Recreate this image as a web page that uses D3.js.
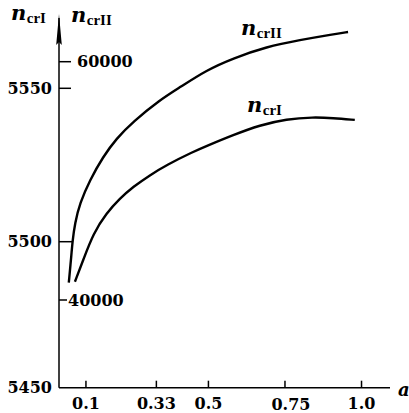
<!DOCTYPE html>
<html>
<head>
<meta charset="utf-8">
<script src="https://cdn.jsdelivr.net/npm/d3@7"></script>
<style>
  html, body { margin: 0; padding: 0; background: #fff; }
  svg { display: block; }
  text { fill: #000; }
</style>
</head>
<body>
<svg id="chart" width="409" height="413"></svg>
<script>
// ---- data ----
const xTicks = [0.1, 0.33, 0.5, 0.75, 1.0];
const xTickLabels = ["0.1", "0.33", "0.5", "0.75", "1.0"];
const leftTicks = [5450, 5500, 5550];
const leftTickLabels = ["5450", "5500", "5550"];
const rightTicks = [40000, 60000];
const rightTickLabels = ["40000", "60000"];

// n_crI (left axis)
const aI =   [0.064, 0.091, 0.124, 0.167, 0.211, 0.254, 0.309, 0.363, 0.450, 0.494, 0.581, 0.668, 0.755, 0.842, 0.907, 0.978];
const nCrI = [5486.3, 5493.7, 5502.7, 5509.3, 5514.1, 5517.9, 5521.7, 5525.0, 5529.3, 5531.2, 5534.8, 5538.0, 5540.0, 5540.6, 5540.3, 5539.7];

// n_crII (right axis)
const aII =   [0.044, 0.053, 0.056, 0.064, 0.080, 0.113, 0.156, 0.200, 0.254, 0.341, 0.407, 0.494, 0.581, 0.690, 0.799, 0.907, 0.956];
const nCrII = [41450, 43920, 44890, 46440, 48120, 50070, 52030, 53570, 54965, 56790, 57850, 59300, 60290, 61260, 61820, 62300, 62490];

// ---- scales ----
const svg = d3.select("#chart");
const x = d3.scaleLinear().domain([0.012, 1.093]).range([59, 390]);
const yL = d3.scaleLinear().domain([5450, 5500, 5550]).range([387.7, 241.7, 88.3]);
const yR = d3.scaleLinear().domain([40000, 60000]).range([300, 61.7]);

const axisColor = "#000";
const x0 = x.range()[0];
const yBase = yL(5450);
const tickFont = { family: "DejaVu Serif", size: 16, weight: "bold" };

function styleTick(sel) {
  return sel.attr("font-family", tickFont.family)
    .attr("font-size", tickFont.size)
    .attr("font-weight", tickFont.weight);
}

// ---- x axis ----
svg.append("line")
  .attr("x1", x0).attr("x2", x.range()[1])
  .attr("y1", yBase).attr("y2", yBase)
  .attr("stroke", axisColor).attr("stroke-width", 1.5);

const xg = svg.append("g");
xg.selectAll("line.t").data(xTicks).enter().append("line")
  .attr("x1", d => x(d)).attr("x2", d => x(d))
  .attr("y1", yBase).attr("y2", yBase - 7)
  .attr("stroke", axisColor).attr("stroke-width", 1.5);
styleTick(xg.selectAll("text").data(xTicks).enter().append("text")
  .attr("x", d => x(d) + (d === 0.75 ? 6 : 0))
  .attr("y", d => d === 0.75 ? 410 : 408.5)
  .attr("text-anchor", "middle"))
  .text((d, i) => xTickLabels[i]);

svg.append("text")
  .attr("x", 398).attr("y", 396)
  .attr("font-family", "DejaVu Serif")
  .attr("font-style", "italic")
  .attr("font-weight", "bold")
  .attr("font-size", 18)
  .text("a");

// ---- y axis line with arrow ----
svg.append("line")
  .attr("x1", x0).attr("x2", x0)
  .attr("y1", yBase).attr("y2", 18)
  .attr("stroke", axisColor).attr("stroke-width", 1.5);
svg.append("path")
  .attr("d", `M${x0},14 L${x0 + 2.8},45 L${x0},42 L${x0 - 2.8},45 Z`)
  .attr("fill", axisColor);

// left ticks
const lg = svg.append("g");
lg.selectAll("line").data(leftTicks.filter(d => d !== 5450)).enter().append("line")
  .attr("x1", x0).attr("x2", d => d === 5500 ? x0 + 14 : x0 + 12)
  .attr("y1", d => yL(d)).attr("y2", d => yL(d))
  .attr("stroke", axisColor).attr("stroke-width", 1.5);
styleTick(lg.selectAll("text").data(leftTicks).enter().append("text")
  .attr("x", 52)
  .attr("y", d => yL(d))
  .attr("dy", "0.36em")
  .attr("text-anchor", "end"))
  .text((d, i) => leftTickLabels[i]);

// right-scale ticks (drawn on same axis)
const rg = svg.append("g");
rg.selectAll("line").data(rightTicks).enter().append("line")
  .attr("x1", x0).attr("x2", d => d === 40000 ? x0 + 8 : x0 + 12)
  .attr("y1", d => yR(d)).attr("y2", d => yR(d))
  .attr("stroke", axisColor).attr("stroke-width", 1.5);
styleTick(rg.selectAll("text").data(rightTicks).enter().append("text")
  .attr("x", d => d === 40000 ? x0 + 9 : x0 + 18)
  .attr("y", d => yR(d))
  .attr("dy", "0.36em"))
  .text((d, i) => rightTickLabels[i]);

// ---- curves ----
const lineI = d3.line()
  .x((d, i) => x(aI[i]))
  .y(d => yL(d))
  .curve(d3.curveBasis);
const lineII = d3.line()
  .x((d, i) => x(aII[i]))
  .y(d => yR(d))
  .curve(d3.curveBasis);

svg.append("path").attr("d", lineI(nCrI))
  .attr("fill", "none").attr("stroke", "#000")
  .attr("stroke-width", 2.4).attr("stroke-linecap", "butt");
svg.append("path").attr("d", lineII(nCrII))
  .attr("fill", "none").attr("stroke", "#000")
  .attr("stroke-width", 2.4).attr("stroke-linecap", "butt");

// ---- labels n_crI / n_crII ----
function nLabel(xp, yp, sub) {
  const t = svg.append("text").attr("x", xp).attr("y", yp);
  t.append("tspan")
    .attr("font-family", "DejaVu Serif")
    .attr("font-style", "italic")
    .attr("font-weight", "bold")
    .attr("font-size", 21)
    .text("n");
  t.append("tspan")
    .attr("dy", 3)
    .attr("dx", 0.5)
    .attr("font-family", "Liberation Serif")
    .attr("font-weight", "bold")
    .attr("font-size", 15)
    .text(sub);
}
nLabel(11, 20, "crI");
nLabel(71, 22, "crII");
nLabel(241, 35, "crII");
nLabel(247, 112, "crI");
</script>
</body>
</html>
